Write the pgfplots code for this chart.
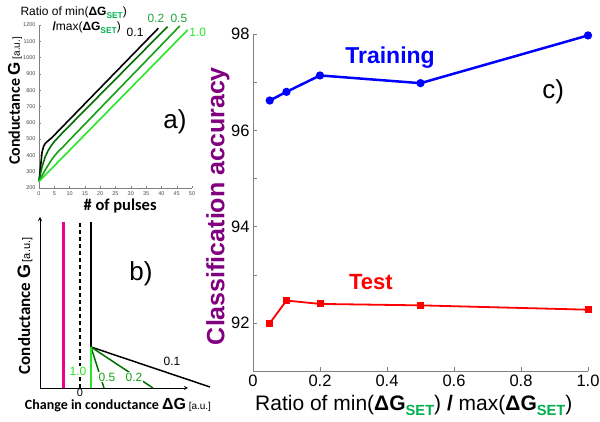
\documentclass[border=0pt]{standalone}
\usepackage{fontspec}
\setmainfont{Liberation Sans}
\newfontfamily\calib{Carlito}
\usepackage{graphicx}
\usepackage{pgfplots}
\pgfplotsset{compat=1.18}
\definecolor{setgreen}{RGB}{0,176,80}
\definecolor{purp}{RGB}{128,0,128}
\definecolor{dgreen}{RGB}{0,110,0}
\definecolor{mgreen}{RGB}{20,160,20}
\definecolor{bgreen}{RGB}{40,230,40}
\definecolor{lblgreen}{RGB}{30,165,60}
\definecolor{axgray}{RGB}{128,128,128}
\newcommand\fs[1]{\fontsize{#1}{#1}\selectfont}
\newcommand\dgset{\textbf{ΔG}\raisebox{-0.45ex}{\scalebox{0.7}{\textcolor{setgreen}{\textbf{SET}}}}}
\begin{document}
\begin{tikzpicture}[x=1pt,y=1pt]
\useasboundingbox (0,0) rectangle (600,422);

% ---------------- panel a ----------------
\begin{axis}[at={(39pt,234pt)}, anchor=south west, scale only axis,
  width=153pt, height=163pt,
  xmin=0, xmax=50, ymin=200, ymax=1200,
  axis lines=left, axis line style={-,axgray},
  xtick={0,5,...,50}, ytick={200,300,...,1200},
  tick align=inside, major tick length=2pt, tick style={axgray},
  ticklabel style={font=\fs{5.5}, text=black!70},
  /pgf/number format/assume math mode=true,
  /pgf/number format/1000 sep={},
  scaled ticks=false, clip=false,
  xlabel={\calib\bfseries\fs{16.5}\# of pulses},
  ylabel={{\calib\bfseries\fs{16}Conductance }{\fs{17}\textbf{G}} {\fs{10}[a.u.]}},
  xlabel style={at={(axis description cs:0.53,-0.108)}, anchor=center},
  ylabel style={at={(axis description cs:-0.157,0.534)}, anchor=center},
]
\addplot[black, line width=1.6pt] coordinates {(0,240)(0.5,330)(1,420)(1.5,455)(2,472)(3,490)(4,505)(39,1180)};
\addplot[dgreen, line width=1.6pt] coordinates {(0,240)(0.5,290)(1,330)(2,390)(3,430)(4,460)(5,485)(6,505)(8,545)(42,1190)};
\addplot[mgreen, line width=1.6pt] coordinates {(0,240)(1,275)(2,310)(3,340)(4,370)(5,395)(6,418)(8,455)(10,495)(46,1194)};
\addplot[bgreen, line width=1.6pt] coordinates {(0,240)(48.6,1170)};
\node[font=\fs{12}] at (axis cs:31.4,1154) {0.1};
\node[font=\fs{12}, text=lblgreen] at (axis cs:38.2,1240) {0.2};
\node[font=\fs{12}, text=lblgreen] at (axis cs:45.7,1240) {0.5};
\node[font=\fs{12}, text=bgreen] at (axis cs:51.9,1154) {1.0};
\node[font=\fs{26}] at (axis cs:44.4,605) {a)};
\end{axis}
\node[font=\fs{12}, anchor=west] at (17,409) {Ratio of min(\dgset)};
\node[font=\fs{12}, anchor=west] at (49,394) {\textbf{/}max(\dgset)};

% ---------------- panel b ----------------
\begin{axis}[at={(40pt,34pt)}, anchor=south west, scale only axis,
  width=148pt, height=171pt,
  xmin=0, xmax=148, ymin=0, ymax=171,
  axis lines=left, axis line style={black, line width=0.8pt, -stealth},
  ticks=none, clip=false,
  xlabel={{\calib\bfseries\fs{14}Change in conductance }{\fs{16}\textbf{ΔG}} {\fs{10}[a.u.]}},
  ylabel={{\calib\bfseries\fs{17}Conductance }{\fs{18}\textbf{G}} {\fs{11}[a.u.]}},
  xlabel style={at={(axis description cs:0.527,-0.102)}, anchor=center},
  ylabel style={at={(axis description cs:-0.101,0.48)}, anchor=center},
]
\addplot[magenta, line width=3pt] coordinates {(23,0)(23,166)};
\addplot[black, line width=1.2pt, dash pattern=on 4pt off 3pt] coordinates {(40,0)(40,166)};
\addplot[black, line width=1.8pt] coordinates {(51,41)(51,166)};
\addplot[black, line width=1.5pt] coordinates {(51,41)(170,1)};
\addplot[dgreen, line width=1.5pt] coordinates {(51,41)(113,0)};
\addplot[dgreen, line width=1.5pt] coordinates {(51,41)(64,0)};
\addplot[bgreen, line width=2.6pt] coordinates {(51,0)(51,41)};
\node[font=\fs{12}, text=bgreen, fill=white, inner sep=1pt] at (axis cs:38,17) {1.0};
\node[font=\fs{12}, text=mgreen, fill=white, inner sep=1pt] at (axis cs:67,11) {0.5};
\node[font=\fs{12}, text=mgreen, fill=white, inner sep=1pt] at (axis cs:94,11) {0.2};
\node[font=\fs{12}] at (axis cs:132,27) {0.1};
\node[font=\fs{11}, inner sep=0pt] at (axis cs:40,-5) {0};
\node[font=\fs{26}] at (axis cs:101,114) {b)};
\end{axis}

% ---------------- panel c ----------------
\begin{axis}[at={(253pt,50.6pt)}, anchor=south west, scale only axis,
  width=335pt, height=337.4pt,
  xmin=0, xmax=1, ymin=91, ymax=98,
  axis lines=left, axis line style={-,axgray, line width=0.8pt},
  tick align=inside, major tick length=4pt, tick style={axgray, line width=0.6pt},
  xtick={0,0.2,0.4,0.6,0.8,1.0},
  xticklabels={0,0.2,0.4,0.6,0.8,1.0},
  ytick={92,93,94,95,96,97,98},
  yticklabels={92,,94,,96,,98},
  ticklabel style={font=\fs{16.5}},
  /pgf/number format/assume math mode=true,
  clip=false,
  xlabel={\fs{21}Ratio of min(\dgset) \textbf{/} max(\dgset)},
  ylabel={\fs{25}\bfseries\color{purp}Classification accuracy},
  xlabel style={at={(axis description cs:0.48,-0.1)}, anchor=center},
  ylabel style={at={(axis description cs:-0.105,0.49)}, anchor=center},
]
\addplot[blue, line width=2.5pt, mark=*, mark size=2.8pt] coordinates {(0.05,96.62)(0.1,96.8)(0.2,97.14)(0.5,96.98)(1.0,97.97)};
\addplot[red, line width=1.8pt, mark=square*, mark size=2.6pt] coordinates {(0.05,92.0)(0.1,92.47)(0.2,92.4)(0.5,92.37)(1.0,92.28)};
\node[font=\fs{23}\bfseries, text=blue] at (axis cs:0.409,97.52) {Training};
\node[font=\fs{22}\bfseries, text=red] at (axis cs:0.352,92.855) {Test};
\node[font=\fs{26}] at (axis cs:0.896,96.8) {c)};
\end{axis}
\end{tikzpicture}
\end{document}
